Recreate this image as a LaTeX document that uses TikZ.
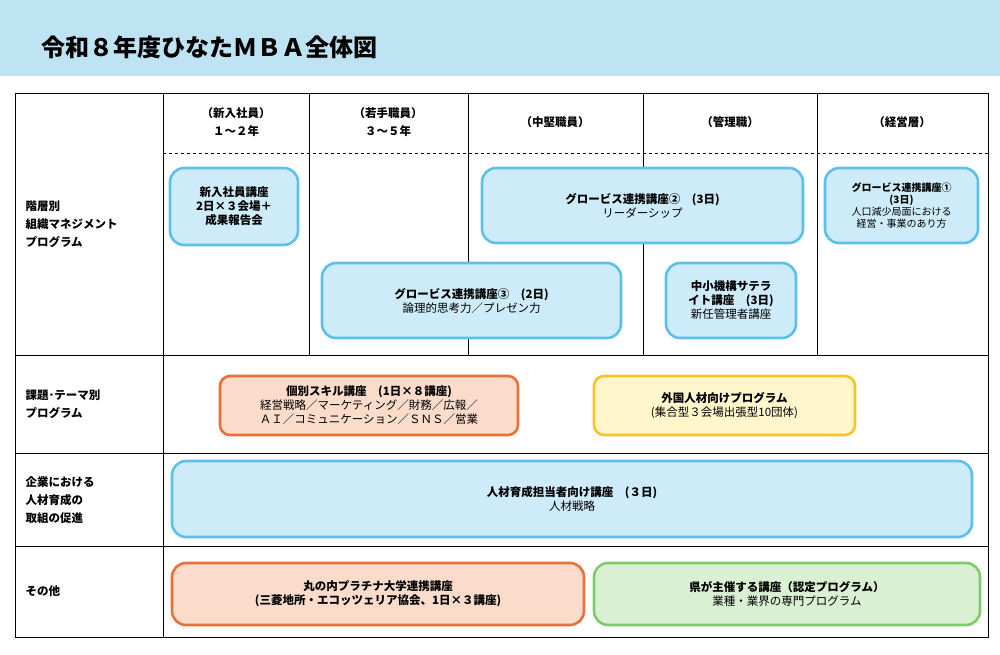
\documentclass[tikz,border=0pt]{standalone}
\usepackage{fontspec}
\setmainfont{Noto Sans CJK JP}
\definecolor{bandblue}{HTML}{BEE3F2}
\definecolor{bluefill}{HTML}{CDEBF8}
\definecolor{blueline}{HTML}{5BC0EB}
\definecolor{orfill}{HTML}{FBDCCB}
\definecolor{orline}{HTML}{E8703A}
\definecolor{yefill}{HTML}{FFF6CC}
\definecolor{yeline}{HTML}{F7C325}
\definecolor{grfill}{HTML}{DAF0D2}
\definecolor{grline}{HTML}{7DCB6C}
\begin{document}
\begin{tikzpicture}[x=1pt,y=-1pt,font=\fontsize{11.5}{14}\selectfont]
	\def \tabtop{93}
	\def \tabbot{637}
	\tikzstyle{prog}=[rounded corners=14pt,line width=2.6pt,align=center,inner sep=0pt]
	\tikzstyle{b-prog}=[prog,draw=blueline,fill=bluefill]
	\tikzstyle{o-prog}=[prog,draw=orline,fill=orfill]
	\tikzstyle{y-prog}=[prog,draw=yeline,fill=yefill]
	\tikzstyle{g-prog}=[prog,draw=grline,fill=grfill]
	\tikzstyle{head}=[align=center,font=\fontsize{11.5}{18}\selectfont\bfseries]
	\tikzstyle{rowlabel}=[align=left,anchor=west,font=\fontsize{11.5}{18}\selectfont\bfseries]
	\useasboundingbox (0,0) rectangle (1000,654);
	% title band
	\fill[bandblue] (0,0) rectangle (1000,76);
	\node[anchor=west,font=\fontsize{24}{28}\selectfont\bfseries] (title) at (38,47) {令和８年度ひなたＭＢＡ全体図};
	% table
	\draw[thick] (15,\tabtop) rectangle (988,\tabbot);
	\draw[thick] (163,\tabtop) -- (163,\tabbot);
	\foreach \x in {309,468,643,817} \draw[thick] (\x,\tabtop) -- (\x,355);
	\draw[thick,dashed] (163,153) -- (988,153);
	\foreach \y in {355,453,546} \draw[thick] (15,\y) -- (988,\y);
	% column heads
	\node[head] (h1) at (236,122) {（新入社員）\\１～２年};
	\node[head] (h2) at (388,122) {（若手職員）\\３～５年};
	\node[head] (h3) at (555,122) {（中堅職員）};
	\node[head] (h4) at (730,122) {（管理職）};
	\node[head] (h5) at (902,122) {（経営層）};
	% row labels
	\node[rowlabel] (r1) at (22,224) {階層別\\組織マネジメント\\プログラム};
	\node[rowlabel] (r2) at (22,404) {課題･テーマ別\\プログラム};
	\node[rowlabel] (r3) at (22,500) {企業における\\人材育成の\\取組の促進};
	\node[rowlabel] (r4) at (22,591) {その他};
	% programs
	\node[b-prog,minimum width=128,minimum height=77] (p-new) at (234,206.5) {\textbf{新入社員講座}\\\textbf{2日×３会場＋}\\\textbf{成果報告会}};
	\node[b-prog,minimum width=321,minimum height=75] (p-glo2) at (642.5,205.5) {\textbf{グロービス連携講座②　(3日)}\\リーダーシップ};
	\node[b-prog,minimum width=153,minimum height=75,font=\fontsize{10}{12}\selectfont] (p-glo1) at (901.5,205.5) {\textbf{グロービス連携講座①}\\\textbf{(3日)}\\人口減少局面における\\経営・事業のあり方};
	\node[b-prog,minimum width=299,minimum height=75] (p-glo3) at (471.5,300.5) {\textbf{グロービス連携講座③　(2日)}\\論理的思考力／プレゼン力};
	\node[b-prog,minimum width=130,minimum height=75] (p-sme) at (731,300.5) {\textbf{中小機構サテラ}\\\textbf{イト講座　(3日)}\\新任管理者講座};
	\node[o-prog,minimum width=298,minimum height=59,rounded corners=10pt] (p-skill) at (369,405.5) {\textbf{個別スキル講座　(1日×８講座)}\\経営戦略／マーケティング／財務／広報／\\ＡＩ／コミュニケーション／ＳＮＳ／営業};
	\node[y-prog,minimum width=261,minimum height=59,rounded corners=10pt] (p-foreign) at (724.5,405.5) {\textbf{外国人材向けプログラム}\\(集合型３会場出張型10団体)};
	\node[b-prog,minimum width=800,minimum height=76] (p-hr) at (572,499) {\textbf{人材育成担当者向け講座　(３日)}\\人材戦略};
	\node[o-prog,minimum width=412,minimum height=62] (p-maru) at (378,594) {\textbf{丸の内プラチナ大学連携講座}\\\textbf{(三菱地所・エコッツェリア協会、1日×３講座)}};
	\node[g-prog,minimum width=386,minimum height=62] (p-pref) at (787,594) {\textbf{県が主催する講座（認定プログラム）}\\業種・業界の専門プログラム};
\end{tikzpicture}
\end{document}
